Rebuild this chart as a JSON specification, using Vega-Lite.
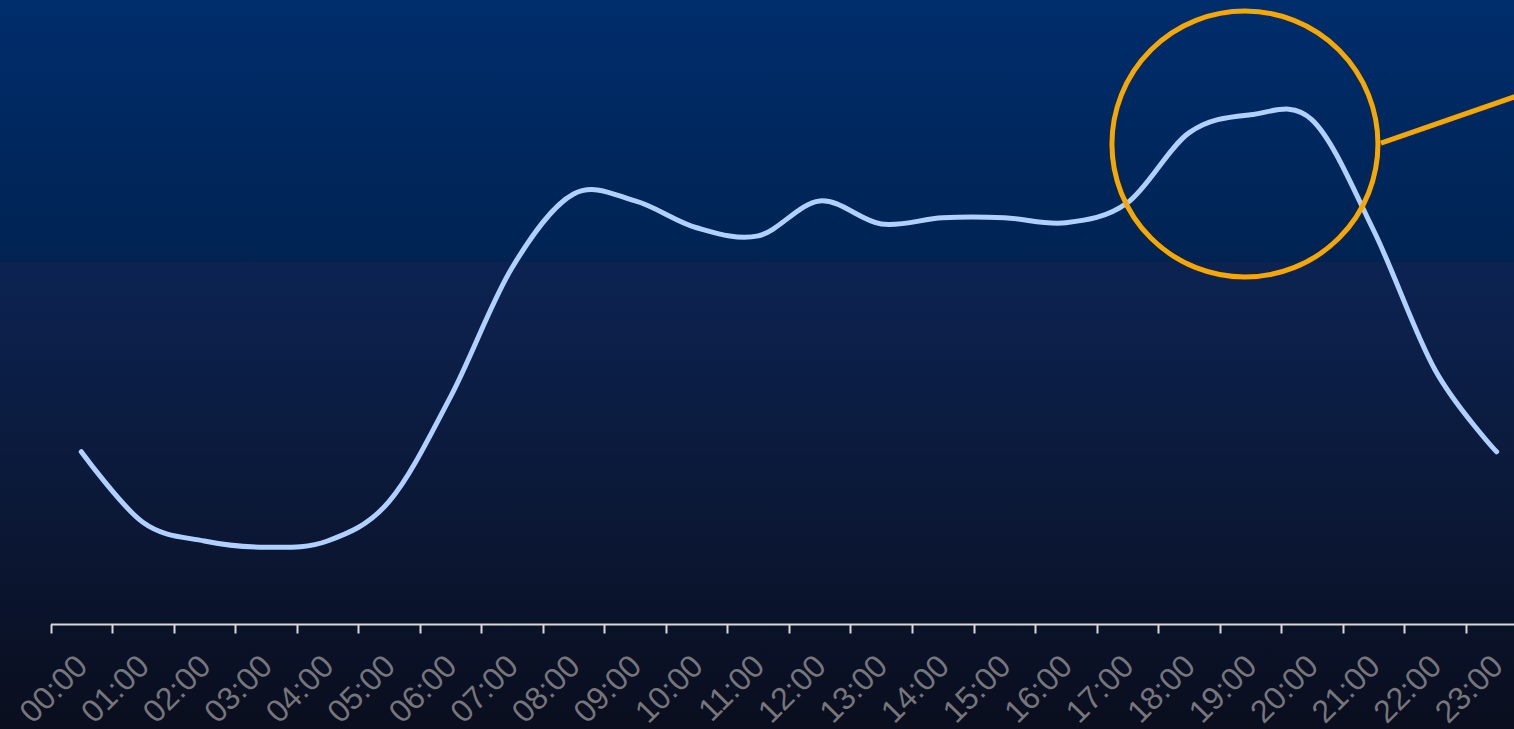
{
  "$schema": "https://vega.github.io/schema/vega-lite/v6.json",
  "width": 1514,
  "height": 729,
  "padding": 0,
  "autosize": {"type": "none"},
  "background": "#0a0e1e",
  "config": {"view": {"stroke": null}},
  "datasets": {
    "traffic": [
      {"hour": "00:00", "value": 27.6},
      {"hour": "01:00", "value": 16.3},
      {"hour": "02:00", "value": 13.3},
      {"hour": "03:00", "value": 12.3},
      {"hour": "04:00", "value": 13.3},
      {"hour": "05:00", "value": 19.6},
      {"hour": "06:00", "value": 36.4},
      {"hour": "07:00", "value": 57.1},
      {"hour": "08:00", "value": 68.9},
      {"hour": "09:00", "value": 67.8},
      {"hour": "10:00", "value": 63.5},
      {"hour": "11:00", "value": 62.2},
      {"hour": "12:00", "value": 67.8},
      {"hour": "13:00", "value": 64.1},
      {"hour": "14:00", "value": 65.1},
      {"hour": "15:00", "value": 65.1},
      {"hour": "16:00", "value": 64.3},
      {"hour": "17:00", "value": 67.5},
      {"hour": "18:00", "value": 78.7},
      {"hour": "19:00", "value": 81.6},
      {"hour": "20:00", "value": 80.8},
      {"hour": "21:00", "value": 63.1},
      {"hour": "22:00", "value": 40.7},
      {"hour": "23:00", "value": 27.6}
    ],
    "zones": [
      {"zone": "peak", "lo": 58.01, "hi": 100},
      {"zone": "normal", "lo": -16.83, "hi": 58.01}
    ],
    "highlight": [
      {"t": 19.41, "value": 76.92}
    ],
    "pointer": [
      {"t": 21.62, "value": 77.08, "t2": 24, "value2": 85.2}
    ]
  },
  "resolve": {"scale": {"x": "independent"}, "axis": {"x": "independent"}},
  "layer": [
    {
      "data": {"name": "zones"},
      "transform": [{"filter": "datum.zone === 'peak'"}],
      "mark": {"type": "rect", "fill": {"gradient": "linear", "x1": 0, "y1": 0, "x2": 0, "y2": 1, "stops": [{"offset": 0, "color": "#002d6c"}, {"offset": 1, "color": "#002352"}]}},
      "encoding": {
        "y": {"field": "hi", "type": "quantitative", "scale": {"domain": [-16.83, 100], "nice": false, "zero": false}, "axis": null},
        "y2": {"field": "lo"}
      }
    },
    {
      "data": {"name": "zones"},
      "transform": [{"filter": "datum.zone === 'normal'"}],
      "mark": {"type": "rect", "fill": {"gradient": "linear", "x1": 0, "y1": 0, "x2": 0, "y2": 1, "stops": [{"offset": 0, "color": "#0c2352"}, {"offset": 1, "color": "#0a0e1e"}]}},
      "encoding": {
        "y": {"field": "hi", "type": "quantitative", "scale": {"domain": [-16.83, 100], "nice": false, "zero": false}, "axis": null},
        "y2": {"field": "lo"}
      }
    },
    {
      "data": {"name": "traffic"},
      "mark": {"type": "line", "interpolate": "cardinal", "stroke": "#b0d0ff", "strokeWidth": 5, "strokeCap": "round"},
      "encoding": {
        "x": {
          "field": "hour", "type": "ordinal", "sort": null,
          "scale": {"type": "band", "range": [50.5, 1527.4], "paddingInner": 0, "paddingOuter": 0},
          "axis": {
            "title": null, "labelAngle": -45, "tickBand": "extent", "offset": -105, "zindex": 1,
            "domainColor": "#d8d8d8", "domainWidth": 2, "tickColor": "#d8d8d8", "tickWidth": 2, "tickSize": 9,
            "labelColor": "#76767b", "labelFont": "Liberation Sans", "labelFontSize": 32, "labelPadding": 17, "labelOffset": -10,
            "labelOverlap": false, "labelBound": false, "grid": false
          }
        },
        "y": {"field": "value", "type": "quantitative", "scale": {"domain": [-16.83, 100], "nice": false, "zero": false}, "axis": null}
      }
    },
    {
      "data": {"name": "highlight"},
      "mark": {"type": "point", "shape": "circle", "filled": false, "stroke": "#f7a800", "strokeWidth": 5, "size": 70756, "opacity": 1},
      "encoding": {
        "x": {"field": "t", "type": "quantitative", "scale": {"domain": [0, 24], "range": [50.5, 1527.4], "nice": false, "zero": false}, "axis": null},
        "y": {"field": "value", "type": "quantitative", "scale": {"domain": [-16.83, 100], "nice": false, "zero": false}, "axis": null}
      }
    },
    {
      "data": {"name": "pointer"},
      "mark": {"type": "rule", "stroke": "#f7a800", "strokeWidth": 5},
      "encoding": {
        "x": {"field": "t", "type": "quantitative", "scale": {"domain": [0, 24], "range": [50.5, 1527.4], "nice": false, "zero": false}, "axis": null},
        "x2": {"field": "t2"},
        "y": {"field": "value", "type": "quantitative", "scale": {"domain": [-16.83, 100], "nice": false, "zero": false}, "axis": null},
        "y2": {"field": "value2"}
      }
    }
  ]
}
